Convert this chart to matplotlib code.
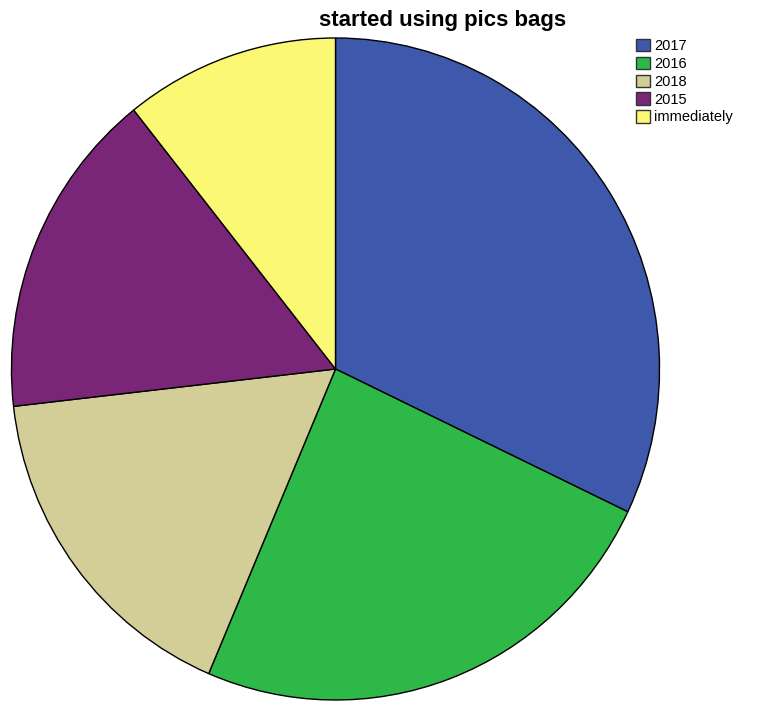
import matplotlib.pyplot as plt
from matplotlib.patches import Patch

# Data (percent share of each slice)
labels = ['2017', '2016', '2018', '2015', 'immediately']
shares = [32.1, 24.3, 16.8, 16.1, 10.7]
colors = ['#3e58ac', '#2eb848', '#d3ce97', '#7a2678', '#fbf873']

W, H = 762, 705
fig = plt.figure(figsize=(W / 100, H / 100), dpi=100)

# pie is slightly taller than wide in the original
cx, cy, rx, ry = 335.5, 369, 325, 332
ax = fig.add_axes([(cx - rx) / W, (H - cy - ry) / H, 2 * rx / W, 2 * ry / H])
ax.pie(shares, colors=colors, startangle=90, counterclock=False,
       wedgeprops=dict(edgecolor='black', linewidth=1.0))
ax.set_aspect('auto')
ax.set_xlim(-1.003, 1.003)
ax.set_ylim(-1.003, 1.003)
ax.axis('off')

fig.text(443 / W, 1 - 26 / H, 'started using pics bags', ha='center', va='baseline',
         fontsize=16, fontweight='bold', family='Liberation Sans')

handles = [Patch(facecolor=c, edgecolor='#333333', linewidth=1.0) for c in colors]
fig.legend(handles, labels, loc='upper left', bbox_to_anchor=(633 / W, 1 - 36 / H),
           frameon=False, handlelength=0.95, handleheight=0.95,
           handletextpad=0.3, labelspacing=0.24, borderaxespad=0, borderpad=0.2,
           prop={'family': 'Liberation Sans', 'size': 10.5})

plt.savefig('out.png', dpi=100)
plt.close()
